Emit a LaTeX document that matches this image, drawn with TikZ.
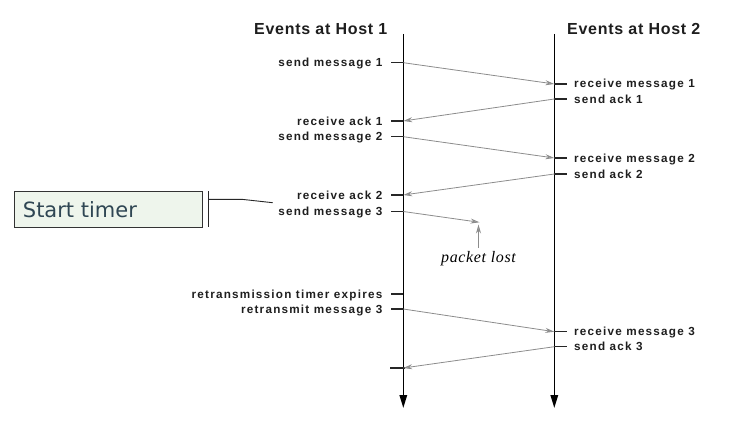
\documentclass[tikz,border=0pt]{standalone}
\usepackage{fontspec}
\usetikzlibrary{arrows.meta,calc}
\newfontfamily\labfont[LetterSpace=10.5]{Liberation Sans}
\newfontfamily\headfont[LetterSpace=4.5]{Liberation Sans}
\newfontfamily\boxfont{DejaVu Sans}
\newfontfamily\itfont[LetterSpace=4]{Liberation Serif}
\definecolor{labcol}{HTML}{1E1E1E}
\definecolor{msgcol}{HTML}{8C8C8C}
\definecolor{boxfill}{HTML}{EEF5EC}
\definecolor{boxtext}{HTML}{2F4653}
\tikzset{
  axis/.style={line width=1.5pt, draw=black, -{Triangle[length=13pt,width=7.5pt]}},
  tick/.style={line width=1.5pt, draw=black!85},
  msg/.style={draw=msgcol, line width=0.8pt, -{Stealth[length=9pt,width=5pt,fill=msgcol!70]}},
  llab/.style={anchor=base east, inner sep=0pt, text=labcol, font=\labfont\bfseries\fontsize{11.7}{13}\selectfont},
  rlab/.style={anchor=base west, inner sep=0pt, text=labcol, font=\labfont\bfseries\fontsize{11.7}{13}\selectfont},
  head/.style={anchor=base west, inner sep=0pt, text=labcol, font=\headfont\bfseries\fontsize{16}{18}\selectfont},
  timerbox/.style={draw=black!80, line width=0.9pt, fill=boxfill, minimum width=188pt, minimum height=35.5pt, inner sep=0pt, text=boxtext, font=\boxfont\fontsize{21}{24}\selectfont},
  brk/.style={draw=black!85, line width=0.9pt}
}
\begin{document}
\begin{tikzpicture}[x=1pt,y=-1pt]
\useasboundingbox (0,0) rectangle (754,433);
% headings
\node[head] (h1) at (254,35) {Events at Host 1};
\node[head] (h2) at (567,35) {Events at Host 2};
% axes
\coordinate (a1t) at (403.3,34);
\coordinate (a1b) at (403.3,408);
\coordinate (a2t) at (554.3,34);
\coordinate (a2b) at (554.3,408);
\draw[axis] (a1t) -- (a1b);
\draw[axis] (a2t) -- (a2b);
% event points host 1
\coordinate (s1) at (403.3,62.7);
\coordinate (r1) at (403.3,121);
\coordinate (s2) at (403.3,136.7);
\coordinate (r2) at (403.3,195);
\coordinate (s3) at (403.3,211.5);
\coordinate (te) at (403.3,294);
\coordinate (rt) at (403.3,309);
\coordinate (r3) at (403.3,368);
% event points host 2
\coordinate (q1) at (554.3,84);
\coordinate (k1) at (554.3,99);
\coordinate (q2) at (554.3,158);
\coordinate (k2) at (554.3,174);
\coordinate (q3) at (554.3,331.7);
\coordinate (k3) at (554.3,346.7);
% ticks
\foreach \p in {s1,r1,s2,r2,s3,te,rt}{\draw[tick] (\p) -- ++(-12.5,0);}
\draw[tick] ($(r3)+(-13,0)$) -- ++(15,0);
\foreach \p in {q1,k1,q2,k2,q3,k3}{\draw[tick] (\p) -- ++(13,0);}
% left labels
\node[llab] (ls1) at (382.5,66.7) {send message 1};
\node[llab] (lr1) at (382.5,125) {receive ack 1};
\node[llab] (ls2) at (382.5,140.7) {send message 2};
\node[llab] (lr2) at (382.5,199) {receive ack 2};
\node[llab] (ls3) at (382.5,215.5) {send message 3};
\node[llab] (lte) at (382.5,298) {retransmission timer expires};
\node[llab] (lrt) at (382.5,313) {retransmit message 3};
% right labels
\node[rlab] (lq1) at (574,88) {receive message 1};
\node[rlab] (lk1) at (574,103) {send ack 1};
\node[rlab] (lq2) at (574,162) {receive message 2};
\node[rlab] (lk2) at (574,178) {send ack 2};
\node[rlab] (lq3) at (574,335.7) {receive message 3};
\node[rlab] (lk3) at (574,350.7) {send ack 3};
% messages
\draw[msg] (s1) -- (q1);
\draw[msg] (k1) -- (r1);
\draw[msg] (s2) -- (q2);
\draw[msg] (k2) -- (r2);
\draw[msg] (rt) -- (q3);
\draw[msg] (k3) -- (r3);
% lost packet
\coordinate (lost) at (479.5,222.3);
\draw[msg] (s3) -- (lost);
\node[anchor=base west, inner sep=0pt, font=\itfont\itshape\fontsize{16}{18}\selectfont] (pl) at (441,262.7) {packet lost};
\coordinate (plt) at (478.5,248);
\coordinate (plh) at (478.5,224.5);
\draw[msg] (plt) -- (plh);
% start timer box
\node[timerbox, anchor=north west] (tb) at (14,191) {\hspace*{-57pt}Start timer};
\coordinate (bt) at (208.3,191);
\coordinate (bb) at (208.3,226.7);
\coordinate (bm) at (208.3,199.3);
\coordinate (bk) at (241.7,199.3);
\coordinate (be) at (272.7,202.7);
\draw[brk] (bt) -- (bb);
\draw[brk] (bm) -- (bk) -- (be);
\end{tikzpicture}
\end{document}
